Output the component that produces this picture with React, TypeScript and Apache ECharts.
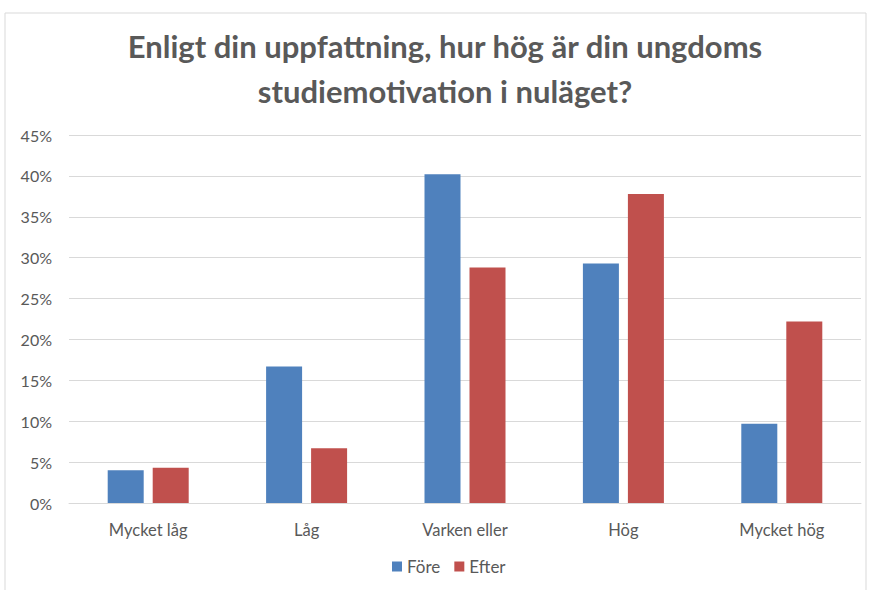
import React, { useEffect, useRef } from "react";
import * as echarts from "echarts";

const categories = ["Mycket låg", "Låg", "Varken eller", "Hög", "Mycket hög"];
const fore = [4.0, 16.7, 40.2, 29.3, 9.7];
const efter = [4.3, 6.7, 28.8, 37.8, 22.2];
const seriesNames = ["Före", "Efter"];
const titleText = "Enligt din uppfattning, hur hög är din ungdoms\nstudiemotivation i nuläget?";

const FONT = "Lato, 'Open Sans', sans-serif";
const GRAY = "#595959";

export default function App() {
  const ref = useRef<HTMLDivElement>(null);
  useEffect(() => {
    document.body.style.margin = "0";
    const chart = echarts.init(ref.current!, undefined, { renderer: "svg" });
    chart.setOption({
      animation: false,
      backgroundColor: "#ffffff",
      textStyle: { fontFamily: FONT },
      title: {
        text: titleText,
        left: 440,
        top: 18,
        textAlign: "center",
        textStyle: {
          fontFamily: FONT,
          fontSize: 31,
          fontWeight: "bold",
          color: GRAY,
          lineHeight: 45,
          align: "center",
        },
      },
      graphic: [
        {
          type: "rect",
          shape: { x: 5, y: 13, width: 861, height: 600 },
          style: { fill: "none", stroke: "#D9D9D9", lineWidth: 1 },
          silent: true,
          z: -10,
        },
      ],
      legend: {
        data: seriesNames,
        bottom: 10,
        left: 387,
        itemWidth: 10,
        itemHeight: 10,
        itemGap: 14,
        icon: "rect",
        textStyle: { fontFamily: FONT, fontSize: 17, color: GRAY },
      },
      grid: { left: 69, right: 8, top: 135, bottom: 87, containLabel: false },
      xAxis: {
        type: "category",
        data: categories,
        axisLine: { show: true, lineStyle: { color: "#D9D9D9" } },
        axisTick: { show: false },
        axisLabel: { color: GRAY, fontSize: 16.5, fontFamily: FONT, margin: 18 },
      },
      yAxis: {
        type: "value",
        min: 0,
        max: 45,
        interval: 5,
        axisLine: { show: false },
        axisTick: { show: false },
        axisLabel: { formatter: "{value}%", color: GRAY, fontSize: 16, fontFamily: FONT, margin: 17 },
        splitLine: { lineStyle: { color: "#D9D9D9", width: 1 } },
      },
      series: [
        {
          name: seriesNames[0],
          type: "bar",
          data: fore,
          barWidth: 36,
          barGap: "25%",
          itemStyle: { color: "#4F81BD" },
        },
        {
          name: seriesNames[1],
          type: "bar",
          data: efter,
          barWidth: 36,
          barGap: "25%",
          itemStyle: { color: "#C0504D" },
        },
      ],
    });
    return () => chart.dispose();
  }, []);
  return <div ref={ref} style={{ width: 869, height: 590 }} />;
}
